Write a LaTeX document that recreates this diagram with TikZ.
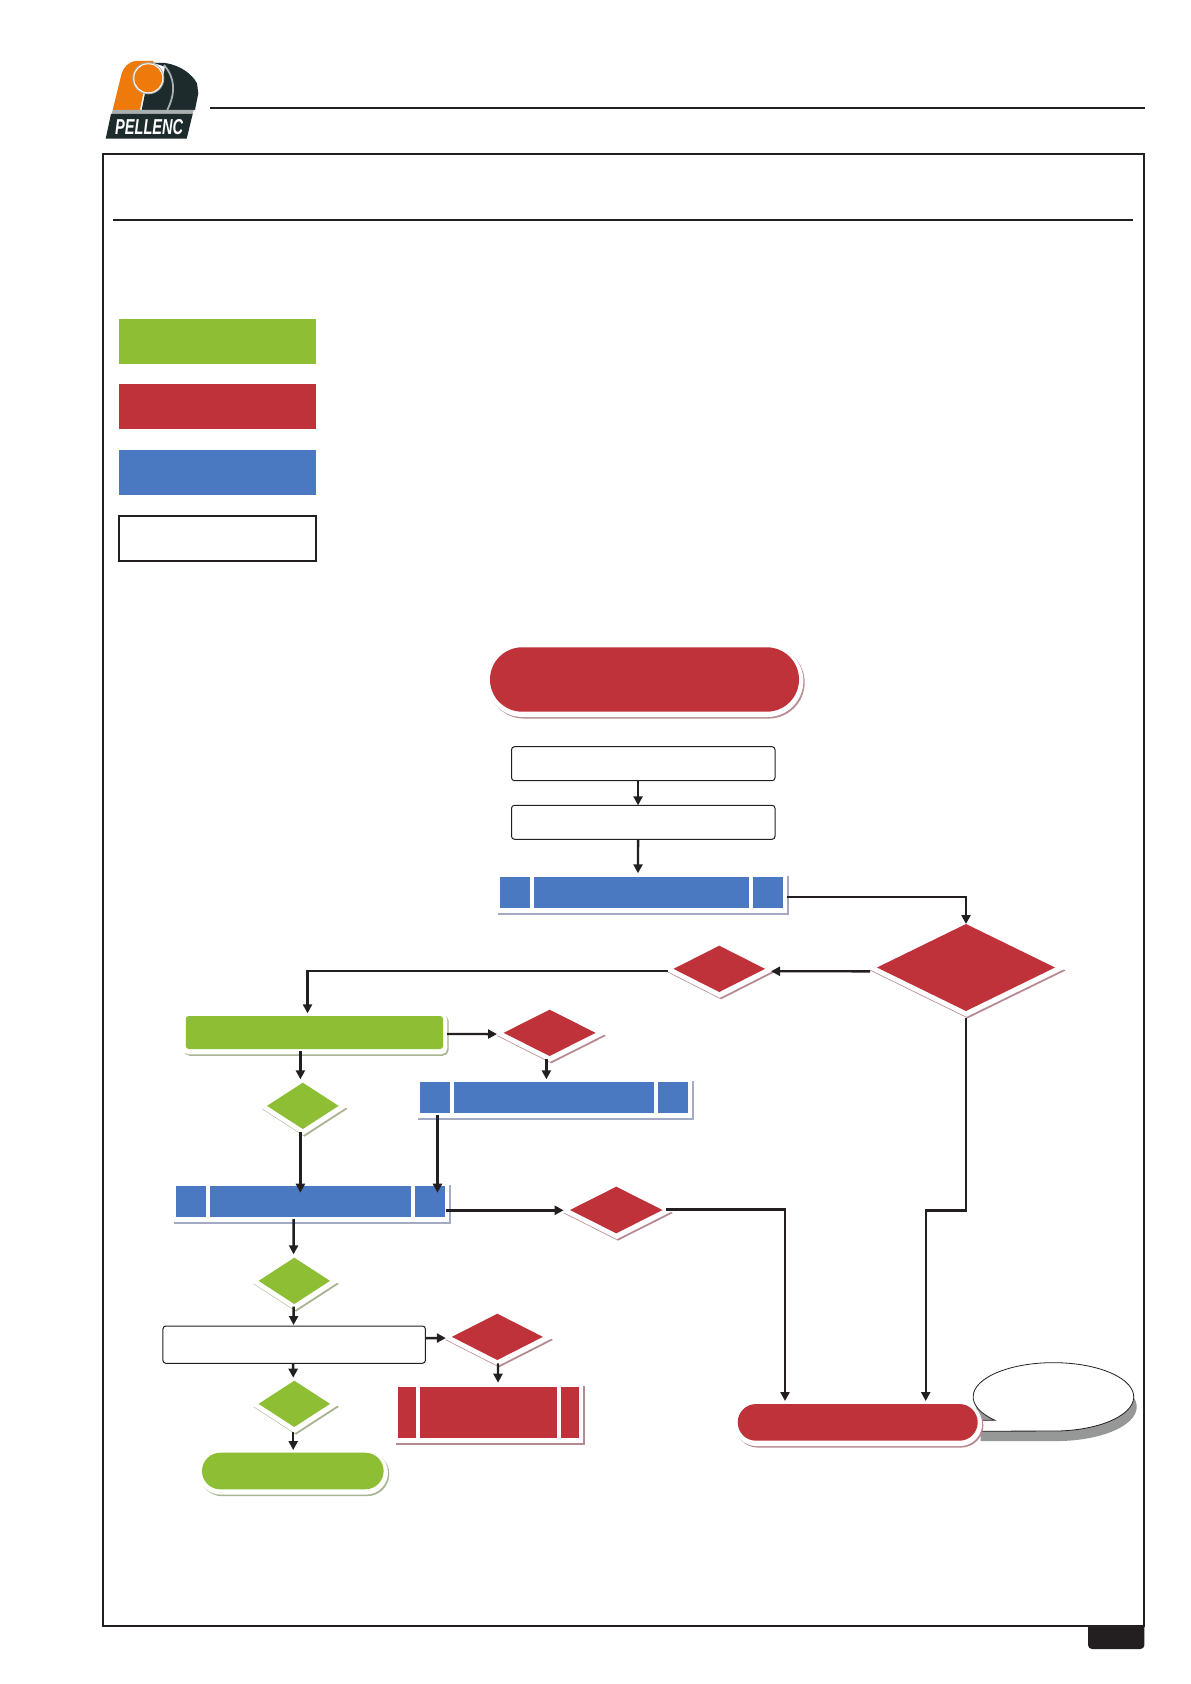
\documentclass[tikz,border=0pt]{standalone}
\usepackage{fontspec}
\usepackage{graphicx}
\setmainfont{Liberation Sans}
\usetikzlibrary{shapes.geometric,shapes.misc,shadows,arrows.meta}
\definecolor{pelRed}{HTML}{BF323A}
\definecolor{pelGreen}{HTML}{8DBE34}
\definecolor{pelBlue}{HTML}{4A79C1}
\definecolor{pelRedEdge}{HTML}{B78A92}
\definecolor{pelGreenEdge}{HTML}{A9B492}
\definecolor{pelBlueEdge}{HTML}{A3AAC2}
\definecolor{pelInk}{HTML}{231F20}
\definecolor{pelOrange}{HTML}{EE7A0B}
\definecolor{pelDark}{HTML}{1E2B2D}
\definecolor{pelGrey}{HTML}{A9B0B0}
\definecolor{pelShade}{HTML}{969897}
\tikzset{
  raised/.style={
    general shadow={shadow xshift=.9pt,shadow yshift=-1.5pt,fill=#1,draw=#1,line width=3.85pt},
    general shadow={shadow xshift=.25pt,shadow yshift=-.75pt,fill=white,draw=white,line width=3.85pt}},
  dec/.style={diamond,inner sep=0pt,outer sep=0pt,fill=#1},
  reddec/.style={dec=pelRed,raised=pelRedEdge},
  greendec/.style={dec=pelGreen,raised=pelGreenEdge},
  plainbox/.style={draw=pelInk,line width=.5pt,fill=white,rounded corners=1.5pt,inner sep=0pt,outer sep=0pt},
  legendbox/.style={inner sep=0pt,outer sep=0pt,minimum width=98.5pt,minimum height=22.5pt},
  subbox/.style={inner sep=0pt,outer sep=0pt,fill=#1,
    path picture={
      \fill[white] ([xshift=\subinset]path picture bounding box.south west) rectangle ([xshift=\subinset+2pt]path picture bounding box.north west);
      \fill[white] ([xshift=-\subinset]path picture bounding box.south east) rectangle ([xshift=-\subinset-2pt]path picture bounding box.north east);}},
  termbox/.style={rounded rectangle,inner sep=0pt,outer sep=0pt,fill=#1}
}
\newcommand{\subinset}{15pt}
\begin{document}
\begin{tikzpicture}[x=.5pt,y=-.5pt,>={Triangle[length=4.5pt,width=4.5pt]}]
  \useasboundingbox (0,0) rectangle (1190,1684);
  % page furniture
  \draw[pelInk,line width=.85pt] (210,108) -- (1145,108);
  \draw[pelInk,line width=.85pt] (102.7,153.7) rectangle (1144,1625.7);
  \draw[pelInk,line width=.85pt] (113,219.7) -- (1133,219.7);
  \fill[pelInk] (1088,1625) [rounded corners=2pt]-- (1088,1649) -- (1144.4,1649) [sharp corners]-- (1144.4,1625) -- cycle;
  % logo
  \fill[pelDark] (141.7,110) -- (145,93.3) -- (161.7,86.7) -- (165,66.7) -- (153,62.7) -- (165,63) .. controls (180,65) and (192,74) .. (197,83.3) -- (198.3,93.3) -- (195,110) -- cycle;
  \draw[pelGrey,line width=.9pt] (164,65) .. controls (175,78) and (176,92) .. (167.3,110);
  \fill[pelOrange] (112.7,110) -- (121.7,73.3) .. controls (124,67) and (128,62) .. (136,61) -- (153.3,61) -- (150,90) -- (143.3,93.3) -- (140,110) -- cycle;
  \fill[pelGrey] (148.3,78.3) circle[radius=16];
  \fill[white] (148.3,78.3) circle[radius=15];
  \fill[pelOrange] (148.3,78.3) circle[radius=14];
  \fill[pelGrey] (112.7,110) -- (193.8,110) -- (192.7,114.2) -- (111.6,114.2) -- cycle;
  \fill[pelDark] (111,114) -- (192.7,114) -- (186.7,138.7) -- (105.7,138.7) -- cycle;
  \node[inner sep=0pt,text=white] (logotext) at (149.2,127) {\scalebox{.81}[1.2]{\fontsize{9}{9}\selectfont\bfseries\itshape PELLENC}};
  % legend
  \node[legendbox,fill=pelGreen] (keygreen) at (217.5,341.5) {};
  \node[legendbox,fill=pelRed] (keyred) at (217.5,406.9) {};
  \node[legendbox,fill=pelBlue] (keyblue) at (217.5,472.4) {};
  \node[legendbox,draw=pelInk,line width=1pt,fill=white] (keywhite) at (217.5,538.5) {};
  % balloon
  \draw[pelInk,line width=.4pt,fill=white,general shadow={shadow xshift=1.5pt,shadow yshift=-5pt,fill=pelShade}] (977.7,1420.3) -- (995,1420.3) arc[start angle=136.7,end angle=450,x radius=80.3,y radius=34.2] -- (977.7,1431.2) -- cycle;
  % flow
  \node[termbox=pelRed,raised=pelRedEdge,minimum width=154.5pt,minimum height=32.2pt] (start) at (644.5,679.5) {};
  \node[plainbox,minimum width=131.75pt,minimum height=17pt] (stepa) at (643.25,763.7) {};
  \node[plainbox,minimum width=131.75pt,minimum height=17pt] (stepb) at (643.25,822.3) {};
  \node[subbox=pelBlue,raised=pelBlueEdge,minimum width=141.5pt,minimum height=15.5pt] (subone) at (641.5,892.5) {};
  \node[reddec,minimum width=89pt,minimum height=43.5pt] (bigdec) at (966,967.5) {};
  \node[reddec,minimum width=45.75pt,minimum height=23.15pt] (smalldec) at (719.25,968.85) {};
  \node[fill=pelGreen,raised=pelGreenEdge,rounded corners=1.5pt,inner sep=0pt,outer sep=0pt,minimum width=128.65pt,minimum height=16.5pt] (okbox) at (314.4,1032.5) {};
  \node[reddec,minimum width=46pt,minimum height=23.15pt] (faildeca) at (549.6,1032.85) {};
  \node[subbox=pelBlue,raised=pelBlueEdge,minimum width=134.2pt,minimum height=15.5pt] (subtwo) at (553.8,1097.5) {};
  \node[greendec,minimum width=35.8pt,minimum height=23.15pt] (okdeca) at (302.8,1105.85) {};
  \node[subbox=pelBlue,raised=pelBlueEdge,minimum width=134.5pt,minimum height=15.5pt] (subthree) at (310.5,1201.5) {};
  \node[reddec,minimum width=46.25pt,minimum height=23.3pt] (faildecb) at (616.25,1210) {};
  \node[greendec,minimum width=35.7pt,minimum height=23.15pt] (okdecb) at (294.3,1280.85) {};
  \node[plainbox,minimum width=131.25pt,minimum height=18.65pt] (stepc) at (294.15,1344.65) {};
  \node[reddec,minimum width=45.5pt,minimum height=23.15pt] (faildecc) at (497.35,1336.85) {};
  \renewcommand{\subinset}{9pt}
  \node[subbox=pelRed,raised=pelRedEdge,minimum width=90.5pt,minimum height=25.5pt] (failbox) at (488.45,1412.5) {};
  \node[greendec,minimum width=35.7pt,minimum height=23.15pt] (okdecc) at (294.3,1403.85) {};
  \node[termbox=pelGreen,raised=pelGreenEdge,minimum width=90.8pt,minimum height=18.3pt] (finish) at (292.8,1471) {};
  \node[termbox=pelRed,raised=pelRedEdge,minimum width=120pt,minimum height=18.35pt] (stop) at (857.7,1422.35) {};
  % connectors
  \begin{scope}[pelInk,line width=1.2pt]
    \draw[->] ([xshift=-2.6pt]stepa.south) -- ([xshift=-2.6pt]stepb.north);
    \draw[->] ([xshift=-2.6pt]stepb.south) -- ([xshift=-1.75pt,yshift=1.85pt]subone.north);
    \draw[->] ([xshift=2pt,yshift=-2.1pt]subone.east) -| (bigdec.north);
    \draw[->] ([xshift=-3.5pt,yshift=-1.9pt]bigdec.west) -- ([xshift=3pt,yshift=-1.2pt]smalldec.east);
    \draw[->] ([xshift=-3pt,yshift=-1.2pt]smalldec.west) -| ([xshift=-3.45pt,yshift=1.35pt]okbox.north);
    \draw[->] ([xshift=2pt,yshift=-.75pt]okbox.east) -- ([xshift=-3.3pt,yshift=-.6pt]faildeca.west);
    \draw[->] ([xshift=-1.6pt,yshift=-1.65pt]faildeca.south) -- ([xshift=-3.7pt,yshift=1.35pt]subtwo.north);
    \draw[->] ([xshift=-7pt,yshift=-1pt]okbox.south) -- ([xshift=-1.2pt,yshift=1.7pt]okdeca.north);
    \draw[->] ([xshift=-1.2pt,yshift=-1.65pt]okdeca.south) -- ([xshift=-5.05pt,yshift=-3.35pt]subthree.north);
    \draw[->] ([xshift=-58.15pt,yshift=-1pt]subtwo.south) -- ([xshift=63.5pt,yshift=-3.35pt]subthree.north);
    \draw[->] ([xshift=.7pt,yshift=-4.4pt]subthree.east) -- ([xshift=-3.2pt,yshift=-.15pt]faildecb.west);
    \draw[->] ([xshift=1.75pt,yshift=.35pt]faildecb.east) -| ([xshift=-36.35pt,yshift=1.5pt]stop.north);
    \draw[->] ([yshift=-3.65pt]bigdec.south) -- ++(0,192) -| ([xshift=34pt,yshift=1.5pt]stop.north);
    \draw[->] ([xshift=-8.45pt,yshift=-1pt]subthree.south) -- ([xshift=-.35pt,yshift=1.7pt]okdecb.north);
    \draw[->] ([xshift=-.35pt,yshift=-1.35pt]okdecb.south) -- ([xshift=-.3pt,yshift=.5pt]stepc.north);
    \draw[->] ([yshift=3.3pt]stepc.east) -- ([xshift=-3pt,yshift=-.6pt]faildecc.west);
    \draw[->] ([xshift=.3pt,yshift=-1.65pt]faildecc.south) -- ([xshift=4.8pt,yshift=2.15pt]failbox.north);
    \draw[->] ([xshift=-.5pt]stepc.south) -- ([xshift=-.55pt,yshift=1.5pt]okdecc.north);
    \draw[->] ([xshift=-.55pt,yshift=-2.65pt]okdecc.south) -- ([xshift=.2pt,yshift=1.35pt]finish.north);
  \end{scope}
\end{tikzpicture}
\end{document}
